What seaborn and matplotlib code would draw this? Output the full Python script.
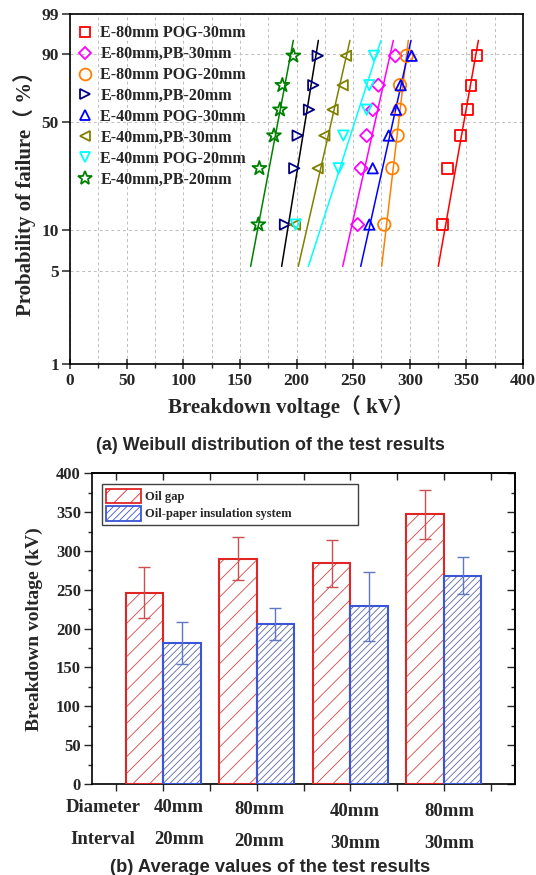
import numpy as np
import pandas as pd
import matplotlib
matplotlib.use("Agg")
import matplotlib.pyplot as plt
import seaborn as sns
from matplotlib.lines import Line2D
from matplotlib.patches import Patch, Rectangle
from matplotlib.ticker import MultipleLocator, FixedLocator

# ---------------- data ----------------
prob_pct = [10.9, 26.6, 42.2, 57.8, 73.4, 89.1]   # median-rank failure probabilities (%)
fit_prob_pct = [5.4, 94.5]                          # probability range covered by the fitted lines

series_names = ["E-80mm POG-30mm", "E-80mm,PB-30mm", "E-80mm POG-20mm", "E-80mm,PB-20mm",
                "E-40mm POG-30mm", "E-40mm,PB-30mm", "E-40mm POG-20mm", "E-40mm,PB-20mm"]
v_e80_pog30 = [329.0, 333.5, 344.6, 351.2, 354.1, 359.4]
v_e80_pb30 = [254.0, 257.0, 262.0, 267.3, 272.3, 287.3]
v_e80_pog20 = [277.5, 284.6, 289.3, 291.1, 291.4, 297.3]
v_e80_pb20 = [189.8, 198.0, 201.0, 211.0, 214.8, 218.7]
v_e40_pog30 = [264.3, 267.3, 281.4, 287.9, 292.0, 301.7]
v_e40_pb30 = [198.7, 218.7, 224.6, 231.9, 240.8, 243.7]
v_e40_pog20 = [199.3, 237.2, 241.3, 262.0, 264.3, 268.4]
v_e40_pb20 = [166.3, 167.2, 180.1, 185.4, 187.5, 197.2]
series_values = [v_e80_pog30, v_e80_pb30, v_e80_pog20, v_e80_pb20,
                 v_e40_pog30, v_e40_pb30, v_e40_pog20, v_e40_pb20]
# fitted Weibull lines: voltage at the low / high end of fit_prob_pct
fit_low_kv = [325.2, 240.8, 275.2, 186.9, 256.7, 201.6, 210.5, 159.5]
fit_high_kv = [360.6, 285.5, 298.7, 219.3, 301.1, 247.2, 274.6, 197.2]

groups = ["40mm/20mm", "80mm/20mm", "40mm/30mm", "80mm/30mm"]
diam_labels = ["40mm", "80mm", "40mm", "80mm"]
interval_labels = ["20mm", "20mm", "30mm", "30mm"]
systems = ["Oil gap", "Oil-paper insulation system"]
mean_oil_gap = [246.5, 290.0, 284.0, 347.0]
err_oil_gap = [33.0, 27.5, 30.0, 32.0]
mean_oil_paper = [181.5, 206.0, 229.0, 268.0]
err_oil_paper = [27.5, 20.0, 44.5, 24.0]

# ---------------- styles ----------------
mk_colors = ["#ff0000", "#ff00ff", "#ff8000", "#000080", "#0000ff", "#808000", "#00ffff", "#008000"]
ln_colors = ["#ff0000", "#ff00ff", "#ff8000", "#000000", "#0000ff", "#808000", "#00ffff", "#008000"]
markers = ["s", "D", "o", ">", "^", "<", "v", "*"]
msizes = [60, 45, 80, 55, 55, 55, 55, 110]

sns.set_theme(style="white")
plt.rcParams["font.family"] = ["Liberation Serif", "Noto Sans CJK SC", "DejaVu Sans"]
plt.rcParams["font.weight"] = "bold"
plt.rcParams["axes.labelweight"] = "bold"
plt.rcParams["hatch.linewidth"] = 0.6
plt.rcParams["axes.edgecolor"] = "black"
plt.rcParams["axes.linewidth"] = 1.2

W = 536
H = 875
fig = plt.figure(figsize=(W / 100, H / 100), dpi=100)


def weib(p):
    p = np.asarray(p, dtype=float) / 100.0
    return np.log(-np.log(1.0 - p))


# ---------------- (a) Weibull plot ----------------
ax1 = fig.add_axes([70 / W, 1 - 364 / H, 453 / W, 350 / H])
wy = weib(prob_pct)
wfit = weib(fit_prob_pct)
for name, vals, lo, hi, mc, lc, mk, ms in zip(series_names, series_values, fit_low_kv, fit_high_kv,
                                               mk_colors, ln_colors, markers, msizes):
    sns.lineplot(x=[lo, hi], y=wfit, color=lc, lw=1.1, ax=ax1, sort=False, zorder=2)
    sns.scatterplot(x=vals, y=wy, marker=mk, s=ms, ax=ax1, zorder=3)
    coll = ax1.collections[-1]
    coll.set_facecolor("none")
    coll.set_edgecolor(mc)
    coll.set_linewidth(1.3)

ax1.set_xlim(0, 400)
ax1.set_ylim(weib(1), weib(99))
ax1.xaxis.set_major_locator(MultipleLocator(50))
ax1.xaxis.set_minor_locator(MultipleLocator(25))
ytick_p = [1, 5, 10, 50, 90, 99]
ax1.yaxis.set_major_locator(FixedLocator(weib(ytick_p)))
ax1.set_yticklabels([str(p) for p in ytick_p])
ax1.grid(True, which="both", axis="x", color="#bdbdbd", ls=(0, (3, 3)), lw=0.7)
ax1.grid(True, which="major", axis="y", color="#bdbdbd", ls=(0, (3, 3)), lw=0.7)
ax1.tick_params(axis="x", which="major", direction="inout", length=7, width=1.1,
                labelsize=12.5, pad=3, bottom=True)
ax1.tick_params(axis="x", which="minor", direction="out", length=3, width=1.0, bottom=True)
ax1.tick_params(axis="y", which="major", direction="out", length=6, width=1.1,
                labelsize=12.5, pad=2, left=True)
for lab in ax1.get_xticklabels() + ax1.get_yticklabels():
    lab.set_fontweight("bold")
for s in ax1.spines.values():
    s.set_linewidth(1.2)
    s.set_color("black")
ax1.set_xlabel("Breakdown voltage（ kV）", fontsize=15, fontweight="bold")
ax1.xaxis.set_label_coords(0.487, -0.088)
ax1.set_ylabel("Probability of failure（ %）", fontsize=15, fontweight="bold", labelpad=4)

handles = [Line2D([], [], ls="none", marker=mk, markersize=np.sqrt(ms) * 0.95, markerfacecolor="none",
                  markeredgecolor=mc, markeredgewidth=1.3)
           for mk, mc, ms in zip(markers, mk_colors, msizes)]
ax1.legend(handles, series_names, loc="upper left", bbox_to_anchor=(0.016, 0.968), frameon=False,
           prop={"family": "Liberation Serif", "weight": "bold", "size": 11.5},
           handlelength=1.0, handletextpad=0.45, labelspacing=0.31, borderpad=0, borderaxespad=0)

fig.text(270 / W, 1 - 445 / H, "(a) Weibull distribution of the test results", ha="center", va="center",
         fontsize=12.9, fontweight="bold", family="Liberation Sans")

# ---------------- (b) bar chart ----------------
ax2 = fig.add_axes([92 / W, 1 - 784 / H, 423 / W, 310.7 / H])
df = pd.DataFrame({
    "group": groups * 2,
    "system": [systems[0]] * 4 + [systems[1]] * 4,
    "value": mean_oil_gap + mean_oil_paper,
})
sns.barplot(data=df, x="group", y="value", hue="system", hue_order=systems, order=groups,
            palette=["white", "white"], errorbar=None, width=0.8, dodge=True, legend=False,
            ax=ax2, zorder=2)

edge_cols = ["#e02525", "#3b55d6"]
hatch_cols = ["#d84545", "#5a6aa8"]
hatches = ["//", "/////"]
err_sets = [err_oil_gap, err_oil_paper]
ecols = ["#c85050", "#6078c0"]
for cont, ec, hc, ht, errs, erc in zip(ax2.containers, edge_cols, hatch_cols, hatches, err_sets, ecols):
    for bar, e in zip(cont.patches, errs):
        bar.set_facecolor("white")
        bar.set_edgecolor(hc)
        bar.set_hatch(ht)
        bar.set_linewidth(0)
        x0, y0 = bar.get_xy()
        ax2.add_patch(Rectangle((x0, y0), bar.get_width(), bar.get_height(), fill=False,
                                edgecolor=ec, lw=1.5, zorder=3))
        xc = x0 + bar.get_width() / 2
        ax2.errorbar(xc, bar.get_height(), yerr=e, fmt="none", ecolor=erc, elinewidth=1.0,
                     capsize=4, capthick=1.0, zorder=4)

ax2.set_xlim(-0.76, 3.76)
ax2.set_ylim(0, 400)
ax2.yaxis.set_major_locator(MultipleLocator(50))
ax2.yaxis.set_minor_locator(MultipleLocator(25))
ax2.xaxis.set_major_locator(MultipleLocator(0.5))
ax2.set_xticklabels([])
ax2.set_xlabel("")
ax2.tick_params(axis="x", which="major", direction="out", length=5, width=1.0, bottom=True,
                top=False, labelbottom=False)
ax2.tick_params(axis="y", which="major", direction="out", length=6, width=1.0, left=True,
                right=False, labelsize=12, pad=2)
ax2.tick_params(axis="y", which="minor", direction="out", length=3, width=1.0, left=True, right=False)
sec_x = ax2.secondary_xaxis("top")
sec_x.xaxis.set_major_locator(MultipleLocator(0.5))
sec_x.tick_params(direction="in", length=5, width=1.0, labeltop=False)
sec_y = ax2.secondary_yaxis("right")
sec_y.yaxis.set_major_locator(MultipleLocator(50))
sec_y.yaxis.set_minor_locator(MultipleLocator(25))
sec_y.tick_params(which="major", direction="in", length=6, width=1.0, labelright=False)
sec_y.tick_params(which="minor", direction="in", length=3, width=1.0)
for lab in ax2.get_yticklabels():
    lab.set_fontweight("bold")
for s in ax2.spines.values():
    s.set_linewidth(1.2)
    s.set_color("black")
ax2.set_ylabel("Breakdown voltage (kV)", fontsize=14, fontweight="bold", labelpad=9)

leg_handles = [Patch(facecolor="white", edgecolor=edge_cols[0], hatch="//", lw=1.3),
               Patch(facecolor="white", edgecolor=edge_cols[1], hatch="/////", lw=1.3)]
ax2.legend(leg_handles, systems, loc="upper left", bbox_to_anchor=(0.023, 0.828, 0.606, 0.137),
           mode="expand", borderaxespad=0, frameon=True, fancybox=False, edgecolor="#404040",
           framealpha=1, prop={"family": "Liberation Serif", "weight": "bold", "size": 9},
           handlelength=2.8, handleheight=1.4, handletextpad=0.3, labelspacing=0.25, borderpad=0.35)
ax2.get_legend().get_frame().set_linewidth(1.0)

# category labels under the bars
fig.text(103 / W, 1 - 808 / H, "Diameter", ha="center", va="center", fontsize=13.5, fontweight="bold")
fig.text(103 / W, 1 - 839 / H, "Interval", ha="center", va="center", fontsize=13.5, fontweight="bold")
offsets = [0.17, 0.03, 0.05, 0.06]
ydiam = [808, 809, 811, 811]
yint = [839, 841, 843, 843]
for i, (d, itv) in enumerate(zip(diam_labels, interval_labels)):
    xfig = fig.transFigure.inverted().transform(ax2.transData.transform((i + offsets[i], 0)))[0]
    fig.text(xfig, 1 - ydiam[i] / H, d, ha="center", va="center", fontsize=13.5, fontweight="bold")
    fig.text(xfig, 1 - yint[i] / H, itv, ha="center", va="center", fontsize=13.5, fontweight="bold")

fig.text(270 / W, 1 - 867 / H, "(b) Average values of the test results", ha="center", va="center",
         fontsize=13.2, fontweight="bold", family="Liberation Sans")

fig.savefig("out.png", dpi=100)
